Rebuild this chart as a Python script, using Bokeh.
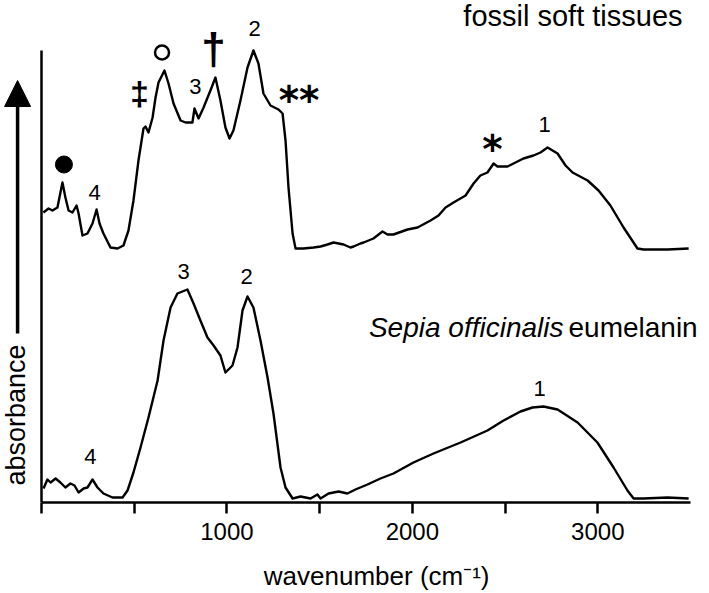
import math
from bokeh.plotting import figure
from bokeh.models import (Range1d, FixedTicker, Label, Arrow, NormalHead)
from bokeh.embed import file_html
from bokeh.resources import INLINE

# ---- data (wavenumber in cm-1, absorbance in arbitrary units, offset) ----
fossil_wn = [10, 38, 59, 86, 113, 129, 146, 167, 189, 200,
             221, 248, 275, 297, 313, 334, 372, 410, 442, 469,
             496, 523, 550, 561, 577, 599, 615, 631, 663, 685,
             712, 750, 777, 814, 825, 847, 874, 911, 938, 965,
             992, 1014, 1035, 1073, 1111, 1143, 1170, 1197, 1235, 1278,
             1300, 1316, 1332, 1354, 1370, 1413, 1467, 1505, 1542, 1575,
             1629, 1666, 1683, 1720, 1737, 1790, 1839, 1866, 1898, 1974,
             2028, 2098, 2141, 2179, 2222, 2287, 2330, 2367, 2405, 2438,
             2459, 2513, 2567, 2599, 2653, 2691, 2729, 2783, 2826, 2864,
             2945, 3004, 3068, 3139, 3214, 3247, 3376, 3490]
fossil_abs = [2.90, 2.94, 2.92, 2.95, 3.20, 3.05, 2.92, 2.90, 2.97, 2.89,
              2.67, 2.69, 2.79, 2.93, 2.79, 2.69, 2.55, 2.54, 2.57, 2.72,
              3.02, 3.42, 3.74, 3.76, 3.70, 3.85, 4.05, 4.20, 4.32, 4.19,
              3.99, 3.82, 3.80, 3.80, 3.94, 3.84, 3.95, 4.12, 4.25, 4.02,
              3.75, 3.64, 3.72, 4.02, 4.35, 4.52, 4.39, 4.09, 3.97, 3.93,
              3.89, 3.62, 3.15, 2.69, 2.54, 2.54, 2.55, 2.56, 2.58, 2.60,
              2.58, 2.55, 2.56, 2.59, 2.60, 2.64, 2.71, 2.68, 2.68, 2.73,
              2.75, 2.82, 2.87, 2.95, 3.00, 3.07, 3.19, 3.27, 3.30, 3.39,
              3.36, 3.36, 3.41, 3.44, 3.47, 3.50, 3.55, 3.49, 3.37, 3.30,
              3.22, 3.12, 2.97, 2.75, 2.54, 2.53, 2.53, 2.54]

sepia_wn = [11, 32, 49, 76, 102, 129, 156, 178, 200, 227,
            248, 275, 302, 334, 383, 437, 464, 496, 534, 577,
            626, 658, 696, 733, 787, 820, 857, 895, 928, 965,
            992, 1030, 1057, 1084, 1111, 1143, 1181, 1219, 1251, 1289,
            1316, 1354, 1397, 1451, 1488, 1505, 1548, 1602, 1650, 1693,
            1758, 1828, 1898, 2006, 2114, 2260, 2405, 2492, 2583, 2648,
            2707, 2783, 2891, 2998, 3085, 3160, 3193, 3247, 3376, 3490]
sepia_abs = [0.14, 0.23, 0.20, 0.24, 0.20, 0.15, 0.19, 0.17, 0.10, 0.14,
             0.15, 0.23, 0.15, 0.09, 0.05, 0.05, 0.12, 0.30, 0.55, 0.85,
             1.22, 1.62, 1.95, 2.09, 2.13, 1.99, 1.82, 1.65, 1.57, 1.47,
             1.30, 1.37, 1.55, 1.92, 2.06, 1.95, 1.62, 1.25, 0.89, 0.35,
             0.15, 0.04, 0.06, 0.04, 0.08, 0.04, 0.09, 0.11, 0.09, 0.13,
             0.18, 0.24, 0.29, 0.40, 0.49, 0.60, 0.72, 0.82, 0.91, 0.95,
             0.96, 0.93, 0.80, 0.60, 0.35, 0.12, 0.04, 0.04, 0.05, 0.04]

x_ticks = [0, 500, 1000, 1500, 2000, 2500, 3000]
x_tick_labels = ["", "", "1000", "", "2000", "", "3000"]

# peak annotations: (text, wavenumber, absorbance anchor, font size, style, font)
peak_labels = [
    ("4", 286, 3.10, 22, "normal", "Liberation Sans"),
    ("3", 830, 4.16, 22, "normal", "Liberation Sans"),
    ("2", 1149, 4.74, 22, "normal", "Liberation Sans"),
    ("1", 2713, 3.78, 22, "normal", "Liberation Sans"),
    ("\u2021", 528, 4.10, 34, "bold", "Liberation Sans"),
    ("\u2020", 928, 4.54, 44, "bold", "Liberation Sans"),
    ("**", 1389, 4.02, 39, "bold", "DejaVu Sans"),
    ("*", 2432, 3.53, 39, "bold", "DejaVu Sans"),
    ("3", 766, 2.31, 22, "normal", "Liberation Sans"),
    ("2", 1106, 2.26, 22, "normal", "Liberation Sans"),
    ("4", 264, 0.46, 22, "normal", "Liberation Sans"),
    ("1", 2686, 1.14, 22, "normal", "Liberation Sans"),
]
filled_marker = ([121], [3.38])
open_marker = ([650], [4.50])

FONT = "Liberation Sans"
NBSP = "\u00a0"

p = figure(width=709, height=593, x_range=Range1d(-221.1, 3602.4), y_range=Range1d(0, 5.02),
           output_backend="svg", toolbar_location=None,
           min_border_left=0, min_border_right=0, min_border_top=0, min_border_bottom=91)
p.outline_line_color = None
p.xgrid.visible = False
p.ygrid.visible = False
p.background_fill_color = "white"
p.border_fill_color = "white"

# x axis
xa = p.xaxis[0]
xa.ticker = FixedTicker(ticks=x_ticks)
xa.major_label_overrides = {t: l for t, l in zip(x_ticks, x_tick_labels)}
xa.bounds = (0, 3500)
xa.minor_tick_line_color = None
xa.major_tick_in = 0
xa.major_tick_out = 11
xa.major_tick_line_width = 2.5
xa.axis_line_width = 2.5
xa.major_label_text_font = FONT
xa.major_label_text_font_size = "24px"
xa.major_label_text_color = "black"
xa.major_label_standoff = 9
xa.axis_line_color = "black"
xa.major_tick_line_color = "black"
xa.axis_label = NBSP * 6 + "wavenumber (cm\u207b\u00b9)"
xa.axis_label_text_font = FONT
xa.axis_label_text_font_size = "26px"
xa.axis_label_text_font_style = "normal"
xa.axis_label_text_color = "black"
xa.axis_label_standoff = 18

# y axis (bare line at wavenumber 0)
ya = p.yaxis[0]
ya.fixed_location = 0
ya.ticker = FixedTicker(ticks=[])
ya.major_label_text_font_size = "0px"
ya.major_tick_out = 0
ya.major_tick_in = 0
ya.minor_tick_line_color = None
ya.axis_line_width = 2.5
ya.axis_line_color = "black"
ya.bounds = (0, 4.52)

# spectra
p.line(fossil_wn, fossil_abs, line_color="black", line_width=2.4, line_join="round")
p.line(sepia_wn, sepia_abs, line_color="black", line_width=2.4, line_join="round")

# markers
p.scatter(filled_marker[0], filled_marker[1], marker="circle", size=17, color="black")
p.scatter(open_marker[0], open_marker[1], marker="circle", size=14, fill_color=None,
          line_color="black", line_width=2.5)

for txt, xw, ya_, fs, style, fnt in peak_labels:
    p.add_layout(Label(x=xw, y=ya_, text=txt, text_font=fnt, text_font_size=f"{fs}px",
                       text_font_style=style, text_align="center", text_baseline="alphabetic",
                       text_color="black"))

# series names
p.add_layout(Label(x=3457, y=4.866, text="fossil soft tissues", text_font=FONT,
                   text_font_size="29px", text_align="right", text_baseline="alphabetic",
                   text_color="black"))
p.add_layout(Label(x=2815, y=1.752, text="Sepia officinalis", text_font=FONT,
                   text_font_size="28px", text_font_style="italic", text_align="right",
                   text_baseline="alphabetic", text_color="black"))
p.add_layout(Label(x=2842, y=1.752, text="eumelanin", text_font=FONT,
                   text_font_size="28px", text_align="left", text_baseline="alphabetic",
                   text_color="black"))

# y title with arrow
p.add_layout(Label(x=-139, y=0.17, text="absorbance", text_font=FONT, text_font_size="27px",
                   angle=math.pi / 2, text_align="left", text_baseline="alphabetic",
                   text_color="black"))
p.add_layout(Arrow(end=NormalHead(size=26, fill_color="black", line_color="black"),
                   x_start=-129, y_start=1.69, x_end=-129, y_end=4.22,
                   line_width=3.5, line_color="black"))

open("out.html", "w").write(file_html(p, INLINE))
